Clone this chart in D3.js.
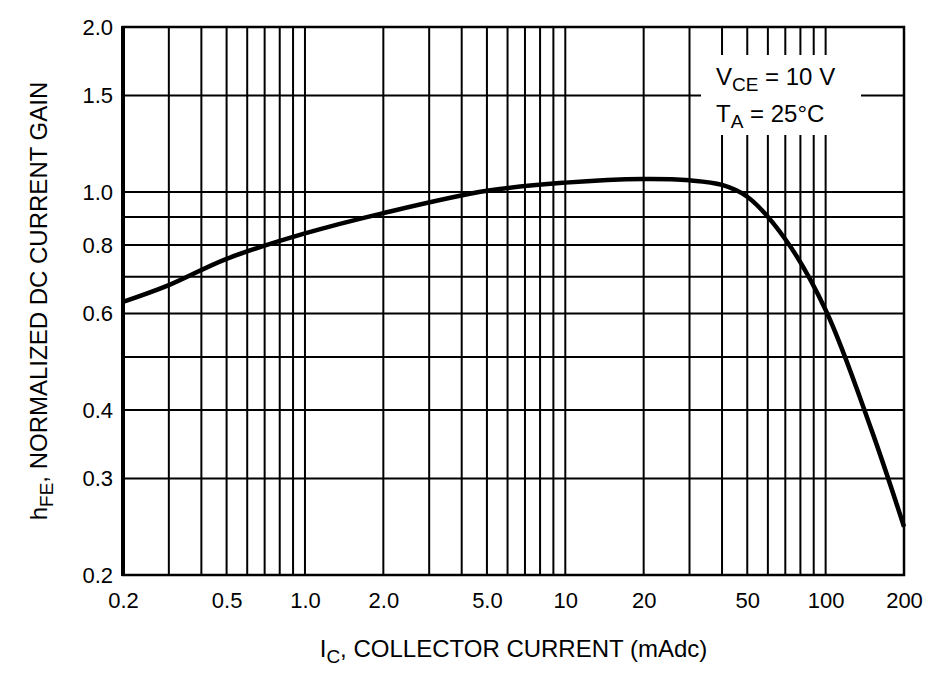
<!DOCTYPE html>
<html><head><meta charset="utf-8">
<script src="https://d3js.org/d3.v7.min.js"></script>
<style>
body{margin:0;background:#fff}
text{font-family:"Liberation Sans Narrow","Arial Narrow","Liberation Sans",sans-serif;fill:#000}
</style></head><body>
<svg id="c" width="943" height="679"></svg>
<script>
// collector current (mAdc) and normalized hFE
var icValues = [0.2, 0.3, 0.5, 1.0, 2.0, 5.0, 10, 20, 30, 40, 50, 70, 100, 150, 200];
var hfeValues = [0.63, 0.676, 0.755, 0.84, 0.915, 1.005, 1.04, 1.056, 1.05, 1.03, 0.98, 0.82, 0.609, 0.368, 0.245];
var xTickLabels = ["0.2", "0.5", "1.0", "2.0", "5.0", "10", "20", "50", "100", "200"];
var xTickValues = [0.2, 0.5, 1, 2, 5, 10, 20, 50, 100, 200];
var xGrid = [0.3, 0.4, 0.5, 0.6, 0.7, 0.8, 0.9, 1, 2, 3, 4, 5, 6, 7, 8, 9, 10, 20, 30, 40, 50, 60, 70, 80, 90, 100];
var yTickLabels = ["0.2", "0.3", "0.4", "0.6", "0.8", "1.0", "1.5", "2.0"];
var yTickValues = [0.2, 0.3, 0.4, 0.6, 0.8, 1.0, 1.5, 2.0];
var yGrid = [0.3, 0.4, 0.5, 0.6, 0.7, 0.8, 0.9, 1.0, 1.5];

var margin = { top: 27, right: 39, bottom: 104, left: 123 },
  width = 943 - margin.left - margin.right,
  height = 679 - margin.top - margin.bottom;

var svg = d3.select("#c");
var g = svg.append("g").attr("transform", "translate(" + margin.left + "," + margin.top + ")");

var x = d3.scaleLog().domain([0.2, 200]).range([0, width]);
var y = d3.scaleLog().domain([0.2, 2.0]).range([height, 0]);

g.selectAll(".vg").data(xGrid).enter().append("line")
  .attr("x1", function (d) { return x(d); }).attr("x2", function (d) { return x(d); })
  .attr("y1", 0).attr("y2", height).attr("stroke", "#000").attr("stroke-width", 2);
g.selectAll(".hg").data(yGrid).enter().append("line")
  .attr("y1", function (d) { return y(d); }).attr("y2", function (d) { return y(d); })
  .attr("x1", 0).attr("x2", width).attr("stroke", "#000").attr("stroke-width", 2);

// frame
g.append("rect").attr("width", width).attr("height", height)
  .attr("fill", "none").attr("stroke", "#000").attr("stroke-width", 2.5);
g.append("line").attr("x1", 0).attr("x2", 0).attr("y1", -1).attr("y2", height + 1)
  .attr("stroke", "#000").attr("stroke-width", 4);

var line = d3.line()
  .x(function (d, i) { return x(icValues[i]); })
  .y(function (d) { return y(d); })
  .curve(d3.curveCatmullRom.alpha(0.5));
g.append("path").datum(hfeValues).attr("d", line)
  .attr("fill", "none").attr("stroke", "#000").attr("stroke-width", 4.5);

var xAxis = d3.axisBottom(x).tickValues(xTickValues)
  .tickFormat(function (d, i) { return xTickLabels[i]; }).tickSize(0).tickPadding(17);
g.append("g").attr("transform", "translate(0," + height + ")").call(xAxis)
  .call(function (s) { s.select(".domain").remove(); })
  .selectAll("text").style("font-size", "22px");

var yAxis = d3.axisLeft(y).tickValues(yTickValues)
  .tickFormat(function (d, i) { return yTickLabels[i]; }).tickSize(0).tickPadding(10);
g.append("g").call(yAxis)
  .call(function (s) { s.select(".domain").remove(); })
  .selectAll("text").style("font-size", "22px");

// legend
g.append("rect").attr("x", 578).attr("y", 28).attr("width", 160).attr("height", 80).attr("fill", "#fff");
var l1 = g.append("text").attr("x", 593).attr("y", 58).style("font-size", "24px");
l1.append("tspan").text("V");
l1.append("tspan").attr("dy", 6).style("font-size", "19px").text("CE");
l1.append("tspan").attr("dy", -6).text(" = 10 V");
var l2 = g.append("text").attr("x", 593).attr("y", 95).style("font-size", "24px");
l2.append("tspan").text("T");
l2.append("tspan").attr("dy", 6).style("font-size", "19px").text("A");
l2.append("tspan").attr("dy", -6).text(" = 25°C");

// axis titles
var xt = svg.append("text").attr("x", margin.left + width / 2).attr("y", 657)
  .attr("text-anchor", "middle").style("font-size", "24px");
xt.append("tspan").text("I");
xt.append("tspan").attr("dy", 6).style("font-size", "19px").text("C");
xt.append("tspan").attr("dy", -6).text(", COLLECTOR CURRENT (mAdc)");

var yt = svg.append("text").attr("transform", "translate(47," + (margin.top + height / 2) + ") rotate(-90)")
  .attr("text-anchor", "middle").style("font-size", "24px");
yt.append("tspan").text("h");
yt.append("tspan").attr("dy", 6).style("font-size", "19px").text("FE");
yt.append("tspan").attr("dy", -6).text(", NORMALIZED DC CURRENT GAIN");
</script>
</body></html>
